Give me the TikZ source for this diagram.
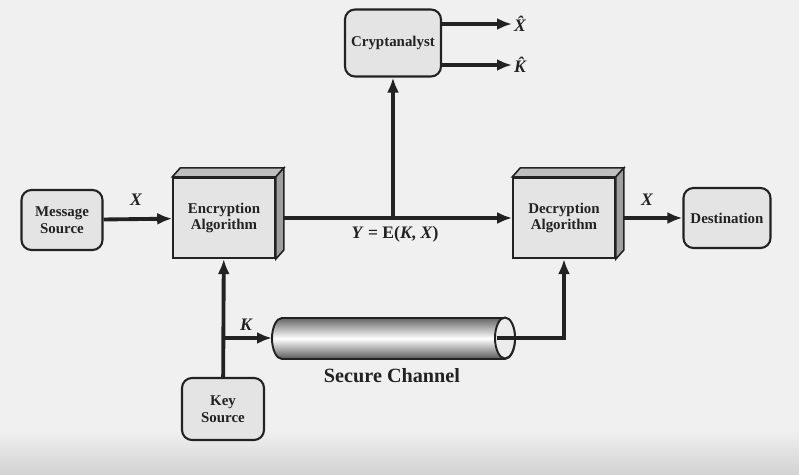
\documentclass[tikz,border=0pt]{standalone}
\usepackage{fontspec}
\setmainfont{Liberation Serif}
\usepackage{tikz}
\usetikzlibrary{arrows.meta,positioning,backgrounds}

\definecolor{paper}{HTML}{F0F0F0}
\definecolor{boxfill}{HTML}{E4E4E4}
\definecolor{ink}{HTML}{222222}

\begin{document}
\begin{tikzpicture}[x=0.02cm, y=-0.02cm]
		\tikzstyle{Box}		= [draw=ink, line width=1.2pt, fill=boxfill, rounded corners=2mm, align=center, text=ink, font=\fontsize{8.5}{9.5}\selectfont\bfseries]
		\tikzstyle{Algo}	= [draw=ink, line width=1.2pt, fill=boxfill, align=center, text=ink, minimum width=20.3mm, minimum height=16mm, font=\fontsize{8.5}{9.5}\selectfont\bfseries]
		\tikzstyle{Flow}	= [draw=ink, line width=2.2pt, -{Latex[length=3mm, width=2.4mm]}]
		\tikzstyle{Sym}		= [text=ink, font=\fontsize{10}{11}\selectfont\bfseries\itshape]
		\tikzstyle{TopFace}	= [fill=gray!50, draw=ink, line width=0.9pt]
		\tikzstyle{SideFace}	= [fill=gray!75, draw=ink, line width=0.9pt]

		% page
		\useasboundingbox (0,0) rectangle (799,474);
		\fill[paper] (0,0) rectangle (799,474);
		\shade[top color=paper, bottom color=gray!35] (0,430) rectangle (799,474);

		\node (msg) at (62, 220) [Box, minimum width=16.2mm, minimum height=12mm] {Message\\Source};
		\node (enc) at (224, 218) [Algo] {Encryption\\Algorithm};
		\node (crypt) at (393, 43) [Box, minimum width=19.2mm, minimum height=13.4mm] {Cryptanalyst};
		\node (dec) at (564, 218) [Algo] {Decryption\\Algorithm};
		\node (dest) at (727, 218) [Box, minimum width=17.4mm, minimum height=12mm] {Destination};
		\node (key) at (223, 409) [Box, minimum width=16.4mm, minimum height=12.4mm] {Key\\Source};

		\node (xhat) at (512, 24) [Sym, anchor=west, inner sep=1pt] {\^X};
		\node (khat) at (512, 65) [Sym, anchor=west, inner sep=1pt] {\^K};
		\node (x1) at (136, 200) [Sym] {X};
		\node (x2) at (647, 200) [Sym] {X};
		\node (k) at (246, 325) [Sym] {K};
		\node (y) at (395, 234) [text=ink, font=\fontsize{10}{11}\selectfont\bfseries] {\textit{Y} = E(\textit{K}, \textit{X})};
		\node (chanlbl) at (392, 376) [text=ink, font=\fontsize{11.5}{13}\selectfont\bfseries] {Secure Channel};

		\coordinate (tap) at (393, 218);
		\coordinate (kb) at (223, 338);
		\coordinate (chin) at (272, 338);
		\coordinate (chout) at (497, 338);

		% secure channel pipe
		\shade[top color=gray!80!black, bottom color=gray!70!black, middle color=white, draw=ink, line width=1.1pt]
			(282, 318) -- (505, 318) arc[start angle=90, end angle=-90, x radius=10, y radius=-20.5]
			-- (282, 359) arc[start angle=270, end angle=90, x radius=10, y radius=-20.5] -- cycle;
		\draw[fill=gray!15, draw=ink, line width=1.1pt] (505, 338) ellipse [x radius=10, y radius=20.5];

		\draw [Flow] (msg) to (enc);
		\draw [Flow] (enc) to (dec);
		\draw [Flow] (tap) to (crypt);
		\draw [Flow] (crypt.east |- xhat) to (xhat);
		\draw [Flow] (crypt.east |- khat) to (khat);
		\draw [Flow] (dec) to (dest);
		\draw [Flow] (key) to (enc);
		\draw [Flow] (kb) to (chin);
		\draw [Flow] (chout) -| (dec);

		% 3d faces of the algorithm boxes
		\foreach \b in {enc, dec} {
			\draw[TopFace] (\b.north west) -- ([shift={(8,-9)}]\b.north west) -- ([shift={(8,-9)}]\b.north east) -- (\b.north east) -- cycle;
			\draw[SideFace] (\b.north east) -- ([shift={(8,-9)}]\b.north east) -- ([shift={(8,-9)}]\b.south east) -- (\b.south east) -- cycle;
		}
	\end{tikzpicture}
\end{document}
